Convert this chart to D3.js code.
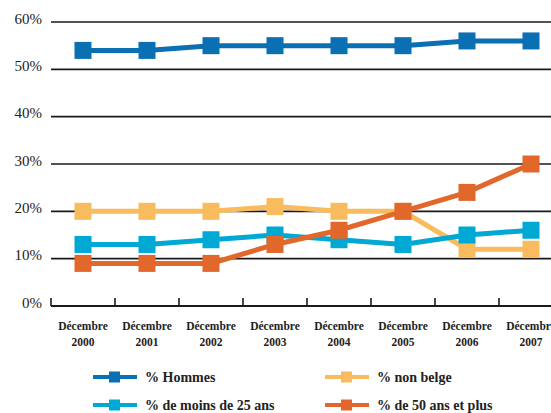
<!DOCTYPE html>
<html>
<head>
<meta charset="utf-8">
<script src="https://cdn.jsdelivr.net/npm/d3@7"></script>
<style>
  body { margin: 0; background: #fff; }
  svg { display: block; }
  text { font-family: "Liberation Serif", "DejaVu Serif", serif; fill: #222; }
</style>
</head>
<body>
<div id="chart"></div>
<script>
// Years on the x axis
const years = ["2000", "2001", "2002", "2003", "2004", "2005", "2006", "2007"];
const monthLabel = "Décembre";

// Percentages per series
const hommes = [54, 54, 55, 55, 55, 55, 56, 56];
const nonBelge = [20, 20, 20, 21, 20, 20, 12, 12];
const moins25 = [13, 13, 14, 15, 14, 13, 15, 16];
const plus50 = [9, 9, 9, 13, 16, 20, 24, 30];

const yTicks = [0, 10, 20, 30, 40, 50, 60];

const seriesNames = ["% Hommes", "% non belge", "% de moins de 25 ans", "% de 50 ans et plus"];
const seriesColors = ["#0b6fb4", "#f8bc5e", "#00a9d4", "#e2672b"];

const series = [
  { name: seriesNames[0], color: seriesColors[0], values: hommes },
  { name: seriesNames[1], color: seriesColors[1], values: nonBelge },
  { name: seriesNames[2], color: seriesColors[2], values: moins25 },
  { name: seriesNames[3], color: seriesColors[3], values: plus50 }
];

const W = 551, H = 413;
const svg = d3.select("#chart").append("svg").attr("width", W).attr("height", H);

const x = d3.scaleBand().domain(years).range([51, 51 + 64 * years.length]);
const y = d3.scaleLinear().domain([0, 60]).range([306, 22]);

// Horizontal gridlines
svg.append("g").selectAll("line").data(yTicks.filter(d => d > 0)).join("line")
  .attr("x1", 51).attr("x2", W)
  .attr("y1", d => y(d)).attr("y2", d => y(d))
  .attr("stroke", "#1a1a1a").attr("stroke-width", 1.6);

// Y labels
svg.append("g").selectAll("text").data(yTicks).join("text")
  .attr("x", 42).attr("y", d => y(d)).attr("dy", "0.1em")
  .attr("text-anchor", "end")
  .style("font-size", "15px")
  .text(d => d + "%");

// Bottom axis with inward ticks at band boundaries
const axisG = svg.append("g");
axisG.append("line")
  .attr("x1", 51).attr("x2", W).attr("y1", y(0)).attr("y2", y(0))
  .attr("stroke", "#1a1a1a").attr("stroke-width", 2.2);
axisG.selectAll("line.tick").data(years).join("line").attr("class", "tick")
  .attr("x1", d => x(d)).attr("x2", d => x(d))
  .attr("y1", y(0)).attr("y2", y(0) - 8)
  .attr("stroke", "#1a1a1a").attr("stroke-width", 1.6);

const lab = axisG.selectAll("text.lab").data(years).join("text").attr("class", "lab")
  .attr("text-anchor", "middle")
  .style("font-size", "11.5px").style("font-weight", "bold");
lab.append("tspan").attr("x", d => x(d) + x.bandwidth() / 2).attr("y", 330).text(monthLabel);
lab.append("tspan").attr("x", d => x(d) + x.bandwidth() / 2).attr("y", 346).text(d => d);

// Lines and markers
const line = d3.line()
  .x((d, i) => x(years[i]) + x.bandwidth() / 2)
  .y(d => y(d));

const ms = 17;
series.forEach(s => {
  const g = svg.append("g");
  g.append("path").datum(s.values)
    .attr("d", line).attr("fill", "none")
    .attr("stroke", s.color).attr("stroke-width", 5);
  g.selectAll("rect").data(s.values).join("rect")
    .attr("x", (d, i) => x(years[i]) + x.bandwidth() / 2 - ms / 2)
    .attr("y", d => y(d) - ms / 2)
    .attr("width", ms).attr("height", ms)
    .attr("fill", s.color);
});

// Legend
const legendPos = [[93, 377], [325, 377], [93, 405], [325, 405]];
series.forEach((s, i) => {
  const [lx, ly] = legendPos[i];
  const g = svg.append("g").attr("transform", `translate(${lx},${ly})`);
  g.append("line").attr("x1", 0).attr("x2", 44).attr("y1", 0).attr("y2", 0)
    .attr("stroke", s.color).attr("stroke-width", 4);
  g.append("rect").attr("x", 16).attr("y", -5.5).attr("width", 11).attr("height", 11).attr("fill", s.color);
  g.append("text").attr("x", 52).attr("y", 0).attr("dy", "0.35em")
    .style("font-size", "14px").style("font-weight", "bold")
    .text(s.name);
});
</script>
</body>
</html>
